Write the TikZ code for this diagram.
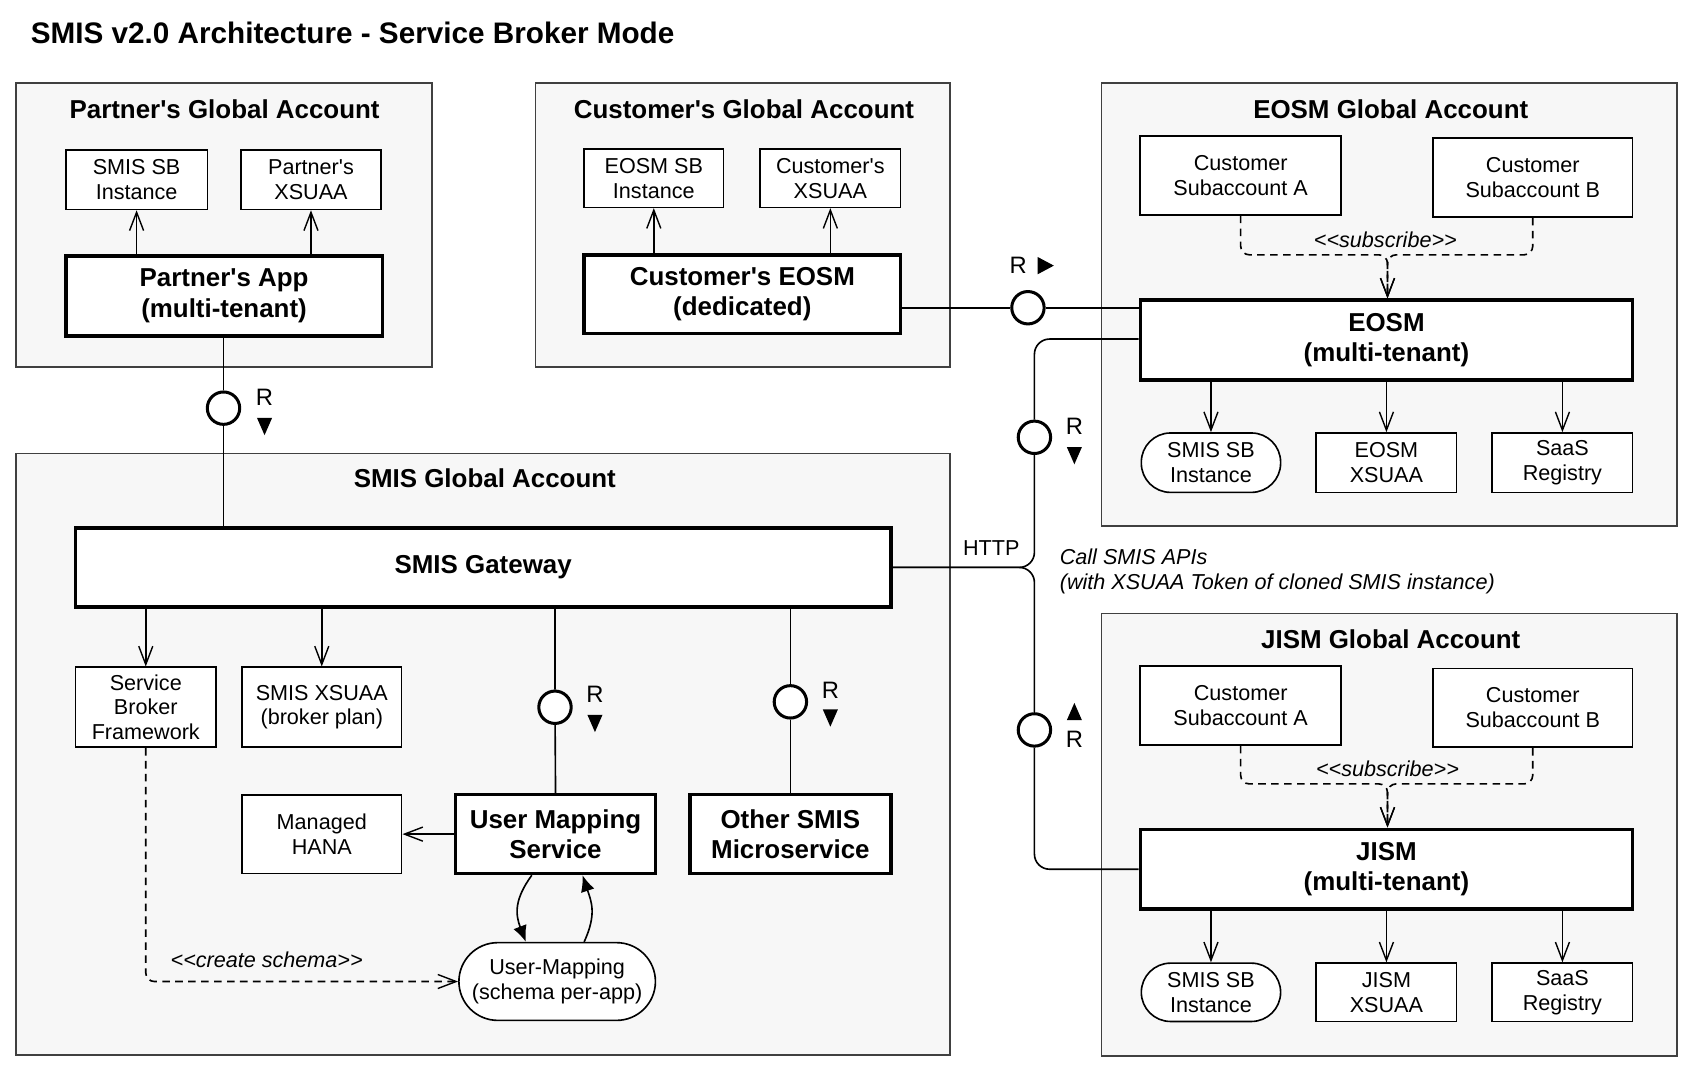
\documentclass[tikz,border=0pt]{standalone}
\usepackage{fontspec}
\setmainfont{Liberation Sans}
\usetikzlibrary{arrows.meta}
\newcommand{\normtxt}{\fontsize{20}{23}\selectfont}
\newcommand{\boldtxt}{\fontsize{24}{28}\selectfont\bfseries}
\newcommand{\titletxt}{\fontsize{27.5}{32}\selectfont\bfseries}
\newcommand{\ap}{\textquotesingle}
\newcommand{\stereo}[1]{\textless\kern0pt\textless\kern0pt#1\kern0pt\textgreater\kern0pt\textgreater}
\tikzset{
    acct/.style={draw=black!75,fill=black!3,line width=1.5pt,inner sep=0pt},
    hdr/.style={font=\boldtxt},
    comp/.style={draw,fill=white,line width=1.5pt,align=center,font=\normtxt,inner sep=0pt},
    svc/.style={comp,line width=3.2pt,font=\boldtxt},
    pill/.style={comp,rounded corners=#1},
    lolli/.style={circle,draw,fill=white,line width=2.8pt,minimum size=30pt,inner sep=0pt},
    rlbl/.style={font=\fontsize{22}{25}\selectfont},
    conn/.style={line width=1.5pt},
    uses/.style={conn,-{Straight Barb[length=17pt,width=13pt,line width=1.3pt]}},
    dep/.style={conn,dashed,dash pattern=on 7pt off 5pt,rounded corners=8pt,-{Straight Barb[length=17pt,width=13pt,line width=1.3pt]}},
    calls/.style={conn,-{Latex[length=15pt,width=13pt]}},
    note/.style={font=\normtxt\itshape},
    tridown/.pic={\fill (-7,-8) -- (7,-8) -- (0,8) -- cycle;},
    triup/.pic={\fill (-7,8) -- (7,8) -- (0,-8) -- cycle;},
    triright/.pic={\fill (-7,-8) -- (-7,8) -- (8,0) -- cycle;}
}
\begin{document}
\begin{tikzpicture}[x=1pt,y=-1pt]
    \useasboundingbox (0,0) rectangle (1567,995);
    %Title
    \node[anchor=west,font=\titletxt] (title) at (25,30) {SMIS v2.0 Architecture - Service Broker Mode};
    %Partner's Global Account
    \node[acct,minimum width=385,minimum height=263] (pga) at (207.5,208.5) {};
    \node[hdr] (pgaT) at (208,101) {Partner\ap s Global Account};
    \node[comp,minimum width=131,minimum height=55] (psb) at (126.5,166.5) {SMIS SB\\Instance};
    \node[comp,minimum width=130,minimum height=55] (pxs) at (288,166.5) {Partner\ap s\\XSUAA};
    \node[svc,minimum width=293,minimum height=74] (papp) at (207.5,274) {Partner\ap s App\\(multi-tenant)};
    \draw[uses] (psb.south |- papp.north) -- (psb.south);
    \draw[uses] (pxs.south |- papp.north) -- (pxs.south);
    %Customer's Global Account
    \node[acct,minimum width=384,minimum height=263] (cga) at (688,208.5) {};
    \node[hdr] (cgaT) at (689,101) {Customer\ap s Global Account};
    \node[comp,minimum width=129,minimum height=54] (csb) at (605.5,165) {EOSM SB\\Instance};
    \node[comp,minimum width=130,minimum height=54] (cxs) at (769,165) {Customer\ap s\\XSUAA};
    \node[svc,minimum width=293,minimum height=73] (ceosm) at (687.5,272.5) {Customer\ap s EOSM\\(dedicated)};
    \draw[uses] (csb.south |- ceosm.north) -- (csb.south);
    \draw[uses] (cxs.south |- ceosm.north) -- (cxs.south);
    %EOSM Global Account
    \node[acct,minimum width=533,minimum height=410] (ega) at (1286.5,282) {};
    \node[hdr] (egaT) at (1288,101) {EOSM Global Account};
    \node[comp,minimum width=186,minimum height=73] (esa) at (1149,162.5) {Customer\\Subaccount A};
    \node[comp,minimum width=185,minimum height=73] (esb) at (1419.5,164.5) {Customer\\Subaccount B};
    \node[svc,minimum width=456,minimum height=74] (eosm) at (1284,315) {EOSM\\(multi-tenant)};
    \node[pill=27pt,minimum width=129,minimum height=55] (esbi) at (1121.5,428.5) {SMIS SB\\Instance};
    \node[comp,minimum width=130,minimum height=55] (exs) at (1284,428.5) {EOSM\\XSUAA};
    \node[comp,minimum width=130,minimum height=55] (ereg) at (1447,428.5) {SaaS\\Registry};
    \coordinate (ejoin) at (1285,236);
    \draw[dep] (esa.south) |- (ejoin) -- (eosm.north -| ejoin);
    \draw[dep] (esb.south) |- (ejoin) -- (eosm.north -| ejoin);
    \node[note] (esub) at (1283,222) {\stereo{subscribe}};
    \draw[uses] (esbi.north |- eosm.south) -- (esbi.north);
    \draw[uses] (exs.north |- eosm.south) -- (exs.north);
    \draw[uses] (ereg.north |- eosm.south) -- (ereg.north);
    %JISM Global Account
    \node[acct,minimum width=533,minimum height=410] (jga) at (1286.5,773) {};
    \node[hdr] (jgaT) at (1288,592) {JISM Global Account};
    \node[comp,minimum width=186,minimum height=73] (jsa) at (1149,653.5) {Customer\\Subaccount A};
    \node[comp,minimum width=185,minimum height=73] (jsb) at (1419.5,655.5) {Customer\\Subaccount B};
    \node[svc,minimum width=456,minimum height=74] (jism) at (1284,805) {JISM\\(multi-tenant)};
    \node[pill=27pt,minimum width=129,minimum height=54] (jsbi) at (1121.5,919) {SMIS SB\\Instance};
    \node[comp,minimum width=130,minimum height=54] (jxs) at (1284,919) {JISM\\XSUAA};
    \node[comp,minimum width=130,minimum height=54] (jreg) at (1447,919) {SaaS\\Registry};
    \coordinate (jjoin) at (1285,726);
    \draw[dep] (jsa.south) |- (jjoin) -- (jism.north -| jjoin);
    \draw[dep] (jsb.south) |- (jjoin) -- (jism.north -| jjoin);
    \node[note] (jsub) at (1285,712) {\stereo{subscribe}};
    \draw[uses] (jsbi.north |- jism.south) -- (jsbi.north);
    \draw[uses] (jxs.north |- jism.south) -- (jxs.north);
    \draw[uses] (jreg.north |- jism.south) -- (jreg.north);
    %SMIS Global Account
    \node[acct,minimum width=865,minimum height=557] (sga) at (447.5,698.5) {};
    \node[hdr] (sgaT) at (449,443) {SMIS Global Account};
    \node[svc,minimum width=755,minimum height=73] (gw) at (447.5,525.5) {SMIS Gateway};
    \node[comp,minimum width=130,minimum height=74] (sbf) at (135,655) {Service\\Broker\\Framework};
    \node[comp,minimum width=148,minimum height=74] (sxs) at (298,655) {SMIS XSUAA\\(broker plan)};
    \node[comp,minimum width=148,minimum height=73] (hana) at (298,772.5) {Managed\\HANA};
    \node[svc,minimum width=185,minimum height=73] (ums) at (514.5,772.5) {User Mapping\\Service};
    \node[svc,minimum width=186,minimum height=73] (other) at (732,772.5) {Other SMIS\\Microservice};
    \node[pill=36pt,minimum width=182,minimum height=72] (umdb) at (516,909) {User-Mapping\\(schema per-app)};
    \draw[uses] (sbf.north |- gw.south) -- (sbf.north);
    \draw[uses] (sxs.north |- gw.south) -- (sxs.north);
    \draw[uses] (ums.west) -- (hana.east);
    \draw[calls] ([xshift=-22pt]ums.south) .. controls +(-16,22) and +(-10,-26) .. ([xshift=-29pt]umdb.north);
    \draw[calls] ([xshift=25pt]umdb.north) .. controls +(12,-26) and +(8,24) .. ([xshift=25pt]ums.south);
    \draw[dep] (sbf.south) |- (umdb.west);
    \node[note] (cschema) at (247,889) {\stereo{create schema}};
    %Interfaces (R)
    \node[lolli] (rP) at (207,378) {};
    \node[lolli] (rC) at (952,285) {};
    \node[lolli] (rE) at (958,405) {};
    \node[lolli] (rJ) at (958,676) {};
    \node[lolli] (rU) at (514,655) {};
    \node[lolli] (rO) at (732,650) {};
    \draw[conn] (papp.south -| rP) -- (rP);
    \draw[conn] (rP) -- (rP |- gw.north);
    \draw[conn] (ceosm.east |- rC) -- (rC) -- (eosm.west |- rC);
    \draw[conn,rounded corners=14pt] (gw.east) -| (rE.south);
    \draw[conn,rounded corners=14pt] (rE.north) |- ([yshift=1pt]eosm.west);
    \draw[conn,rounded corners=14pt] (gw.east) -| (rJ.north);
    \draw[conn,rounded corners=14pt] (rJ.south) |- (jism.west);
    \draw[conn] (rU |- gw.south) -- (rU) -- (ums.north);
    \draw[conn] (rO |- gw.south) -- (rO) -- (other.north);
    \node[rlbl] (rPl) at (245,368) {R};
    \pic at (245,395) {tridown};
    \node[rlbl] (rCl) at (943,246) {R};
    \pic at (968,246) {triright};
    \node[rlbl] (rEl) at (995,395) {R};
    \pic at (995,422) {tridown};
    \pic at (995,659) {triup};
    \node[rlbl] (rJl) at (995,685) {R};
    \node[rlbl] (rUl) at (551,643) {R};
    \pic at (551,670) {tridown};
    \node[rlbl] (rOl) at (769,639) {R};
    \pic at (769,665) {tridown};
    %HTTP call
    \node[font=\normtxt] (http) at (918,508) {HTTP};
    \node[note,anchor=west,align=left] (api) at (978,529) {Call SMIS APIs\\(with XSUAA Token of cloned SMIS instance)};
\end{tikzpicture}
\end{document}
